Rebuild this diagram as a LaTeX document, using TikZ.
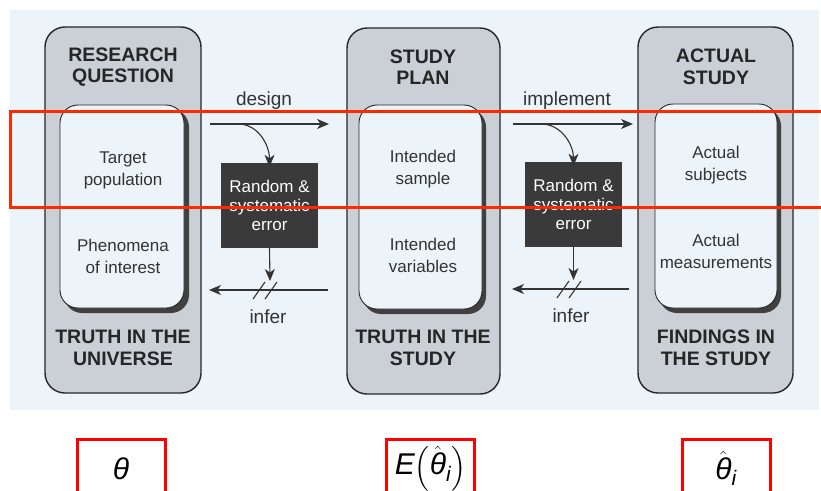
\documentclass[tikz,border=0pt]{standalone}
\usepackage{fontspec}
\usepackage{amsmath}
\setmainfont{Liberation Sans}
\usetikzlibrary{arrows.meta}

\definecolor{paper}{RGB}{236,244,250}
\definecolor{colgray}{RGB}{203,208,215}
\definecolor{errgray}{RGB}{58,58,58}
\definecolor{hilite}{RGB}{255,40,0}
\newcommand{\thhat}{\hat{\text{\itshape θ}}_{\text{\itshape i}}}

\begin{document}
\begin{tikzpicture}[x=1pt,y=-1pt,
  colbox/.style={draw=black!85, line width=1.4pt, fill=colgray, rounded corners=20pt},
  shadowbox/.style={fill=black!75, rounded corners=18pt},
  innerbox/.style={draw=black!85, line width=0.9pt, fill=paper, rounded corners=18pt},
  title/.style={font=\fontsize{19.5}{21.5}\selectfont\bfseries, align=center, text=black!85},
  item/.style={font=\fontsize{17}{22}\selectfont, align=center, text=black!80},
  errbox/.style={fill=errgray, minimum width=97pt, minimum height=85pt, inner sep=0pt,
    font=\fontsize{17}{19}\selectfont, align=center, text=white},
  label/.style={font=\fontsize{19}{22}\selectfont, text=black!80},
  flow/.style={draw=black!80, line width=1.1pt, -{Stealth[length=12pt,width=10pt,inset=3.5pt]}},
  brk/.style={draw=black!80, line width=1.1pt},
  mathbox/.style={draw=red, line width=3pt, minimum width=88pt, minimum height=58pt,
    anchor=north, font=\fontsize{30}{34}\selectfont}]

\useasboundingbox (0,0) rectangle (821,490);
\fill[paper] (10,10) rectangle (819,410);

% the three columns
\draw[colbox] (45,27) rectangle (201,393);
\draw[colbox] (347,28) rectangle (500,394);
\draw[colbox] (638,27) rectangle (793,393);

\fill[shadowbox] (64,109) rectangle (189,313);
\draw[innerbox] (60,105) rectangle (184,308);
\fill[shadowbox] (363,109) rectangle (486,314);
\draw[innerbox] (359,105) rectangle (482,309);
\fill[shadowbox] (659,108) rectangle (781,313);
\draw[innerbox] (655,104) rectangle (777,308);

\node[title] (rq) at (123,67) {RESEARCH\\QUESTION};
\node[title] (tu) at (123,348) {TRUTH IN THE\\UNIVERSE};
\node[title] (sp) at (423,67) {STUDY\\PLAN};
\node[title] (ts) at (423,348) {TRUTH IN THE\\STUDY};
\node[title] (as) at (716,67) {ACTUAL\\STUDY};
\node[title] (fs) at (716,348) {FINDINGS IN\\THE STUDY};

\node[item] (tp) at (123,170) {Target\\population};
\node[item] (pi) at (123,256) {Phenomena\\of interest};
\node[item] (is) at (423,169) {Intended\\sample};
\node[item] (iv) at (423,255) {Intended\\variables};
\node[item] (asub) at (716,165) {Actual\\subjects};
\node[item] (am) at (716,251) {Actual\\measurements};

% error boxes between the columns
\node[errbox] (err1) at (269.5,205.5) {Random \&\\systematic\\error};
\node[errbox] (err2) at (573.5,204.5) {Random \&\\systematic\\error};

% design / infer
\coordinate (d1a) at (210,124);
\coordinate (d1b) at (329,124);
\coordinate (d1c) at (238,124);
\coordinate (i1a) at (328,290);
\coordinate (i1b) at (209,290);
\coordinate (i1c) at (270,281);
\node[label] (dsg) at (264,101) {design};
\node[label] (inf1) at (268,317) {infer};
\draw[flow] (d1a) -- (d1b);
\draw[flow] (d1c) to[out=0,in=90] ([yshift=-4pt]err1.north);
\draw[flow] (err1.south) -- (i1c);
\draw[flow] (i1a) -- (i1b);
\draw[brk] (253,299) -- (265,282) (265,299) -- (277,282);

% implement / infer
\coordinate (d2a) at (513,124);
\coordinate (d2b) at (633,124);
\coordinate (d2c) at (541,124);
\coordinate (i2a) at (629,289);
\coordinate (i2b) at (512,289);
\coordinate (i2c) at (573.5,280);
\node[label] (imp) at (567,101) {implement};
\node[label] (inf2) at (571,316) {infer};
\draw[flow] (d2a) -- (d2b);
\draw[flow] (d2c) to[out=0,in=90] ([yshift=-4pt]err2.north);
\draw[flow] (err2.south) -- (i2c);
\draw[flow] (i2a) -- (i2b);
\draw[brk] (557,298) -- (569,281) (569,298) -- (581,281);

% highlighted row
\draw[hilite, line width=3pt] (10,111) rectangle (830,207);

% estimands below
\node[mathbox] (th) at (121,438) {$\text{\itshape θ}$};
\node[mathbox] (eth) at (430.5,438) {$\text{\itshape E}\!\left(\thhat\right)$};
\node[mathbox] (thh) at (726,438) {$\thhat$};

\end{tikzpicture}
\end{document}
